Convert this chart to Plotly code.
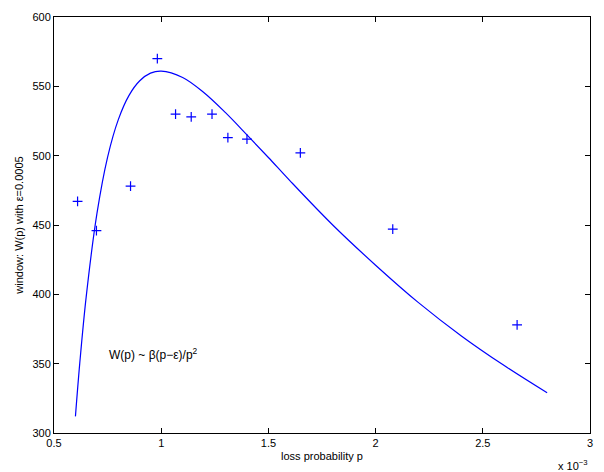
import plotly.graph_objects as go

# measured points (p in units of 1e-3)
meas_p = [0.61, 0.698, 0.857, 0.982, 1.067, 1.14, 1.237, 1.311, 1.40, 1.649, 2.08, 2.66]
meas_w = [467, 446, 478, 570, 530, 528, 530, 513, 512, 502, 447, 378]

# fitted curve
fit_p = [0.60, 0.62, 0.65, 0.70, 0.75, 0.80, 0.85, 0.90, 0.95, 1.00, 1.1, 1.2, 1.3, 1.4,
         1.5, 1.6, 1.8, 2.0, 2.2, 2.4, 2.6, 2.8]
fit_w = [312, 350, 398, 458, 499, 526, 543.5, 554, 559.5, 561, 556.4, 545.4, 531, 515,
         498.7, 482, 450, 421, 394, 370, 348.6, 329]

x_ticks = [0.5, 1, 1.5, 2, 2.5, 3]
x_labels = ["0.5", "1", "1.5", "2", "2.5", "3"]
y_ticks = [300, 350, 400, 450, 500, 550, 600]

FONT = "Liberation Sans, Arial, Helvetica, sans-serif"
BLUE = "rgb(0,0,255)"

fig = go.Figure()
fig.add_trace(go.Scatter(x=fit_p, y=fit_w, mode="lines", line=dict(color=BLUE, width=1.2, shape="spline"),
                         showlegend=False, hoverinfo="skip"))
fig.add_trace(go.Scatter(x=meas_p, y=meas_w, mode="markers",
                         marker=dict(symbol="cross-thin", size=7, line=dict(color=BLUE, width=1.2), color=BLUE),
                         showlegend=False))

axis_common = dict(showgrid=False, zeroline=False, showline=True, linecolor="black", linewidth=1,
                   mirror="ticks", ticks="inside", ticklen=5, tickcolor="black", tickwidth=1,
                   tickfont=dict(family=FONT, size=11, color="black"))

fig.update_xaxes(range=[0.5, 3], tickvals=x_ticks, ticktext=x_labels,
                 title=dict(text="loss probability p", font=dict(family=FONT, size=11, color="black"), standoff=4),
                 **axis_common)
fig.update_yaxes(range=[300, 600], tickvals=y_ticks,
                 title=dict(text="window: W(p) with ε=0.0005", font=dict(family=FONT, size=11, color="black"), standoff=6),
                 **axis_common)

fig.add_annotation(x=0.745, y=357, xref="x", yref="y", xanchor="left", yanchor="middle",
                   text="W(p) ~ β(p−ε)/p<sup>2</sup>", showarrow=False,
                   font=dict(family=FONT, size=12, color="black"))
fig.add_annotation(x=1.0, y=-0.055, xref="paper", yref="paper", xanchor="right", yanchor="top",
                   text="x 10<sup>−3</sup>", showarrow=False,
                   font=dict(family=FONT, size=11, color="black"))

fig.update_layout(width=604, height=472, margin=dict(l=54, r=14, t=11, b=39),
                  paper_bgcolor="white", plot_bgcolor="white", font=dict(family=FONT))

fig.write_html("out.html")
